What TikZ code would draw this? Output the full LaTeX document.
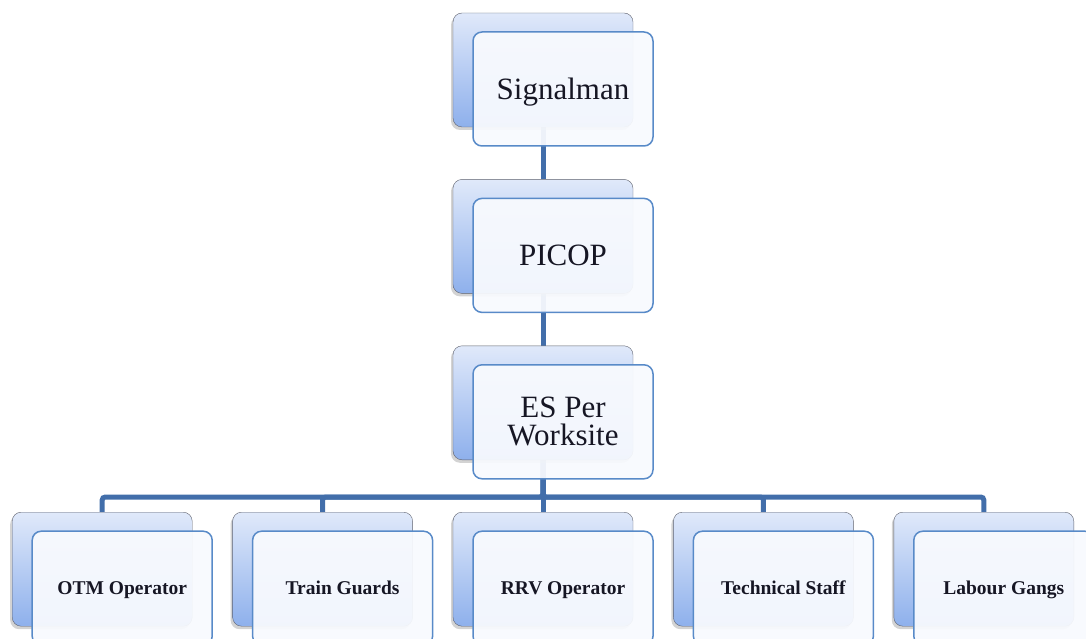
\documentclass[tikz,border=0pt]{standalone}
\usepackage{fontspec}
\setmainfont{Liberation Serif}
\usetikzlibrary{
  positioning,
  shadows,
  backgrounds,
}
\definecolor{linkblue}{RGB}{66,110,170}
\definecolor{backtop}{RGB}{224,233,250}
\definecolor{backbottom}{RGB}{142,176,236}
\definecolor{backedge}{RGB}{95,98,110}
\definecolor{frontfill}{RGB}{248,250,254}
\definecolor{frontedge}{RGB}{88,138,200}
\definecolor{inktext}{RGB}{22,22,36}
\tikzset{
  node distance= 52pt and 40pt,
  backbox/.style={
    rectangle,
    rounded corners=9pt,
    minimum width=180pt,
    minimum height=114pt,
    inner sep=0pt,
    draw=backedge,
    thin,
    top color=backtop,
    bottom color=backbottom,
    drop shadow={shadow xshift=-2pt, shadow yshift=-3pt, opacity=0.35},
  },
  frontbox/.style={
    rectangle,
    rounded corners=9pt,
    minimum width=180pt,
    minimum height=114pt,
    inner sep=0pt,
    draw=frontedge,
    line width=1.5pt,
    fill=frontfill,
    fill opacity=0.94,
    text opacity=1,
    text=inktext,
    align=center,
  },
  oneline/.style={
    text height=#1,
    text depth=0pt,
  },
  bigtext/.style={
    font=\fontsize{31}{28}\selectfont,
  },
  smalltext/.style={
    oneline=12.9pt,
    font=\fontsize{19.5}{22}\selectfont\bfseries,
  },
  link/.style={
    line width=5pt,
    draw=linkblue,
    rounded corners=3pt,
  },
}
\begin{document}
\begin{tikzpicture}[x=1pt,y=1pt]
  \path[use as bounding box,clip] (0,0) rectangle (1086,-639);

  % back boxes
  \node[backbox] (sigb) at (543,-70) {};
  \node[backbox, below=of sigb] (picb) {};
  \node[backbox, below=of picb] (esb) {};
  \node[backbox, below=of esb] (rrvb) {};
  \node[backbox, left=of rrvb] (trnb) {};
  \node[backbox, left=of trnb] (otmb) {};
  \node[backbox, right=of rrvb] (tecb) {};
  \node[backbox, right=of tecb] (labb) {};

  % front boxes
  \node[frontbox, bigtext, oneline=20.5pt] (sig) at ([shift={(20,-19)}]sigb) {Signalman};
  \node[frontbox, bigtext, oneline=20.5pt] (pic) at ([shift={(20,-19)}]picb) {PICOP};
  \node[frontbox, bigtext] (es) at ([shift={(20,-19)}]esb) {ES Per\\Worksite};
  \node[frontbox, smalltext] (otm) at ([shift={(20,-19)}]otmb) {OTM Operator};
  \node[frontbox, smalltext] (trn) at ([shift={(20,-19)}]trnb) {Train Guards};
  \node[frontbox, smalltext] (rrv) at ([shift={(20,-19)}]rrvb) {RRV Operator};
  \node[frontbox, smalltext] (tec) at ([shift={(20,-19)}]tecb) {Technical Staff};
  \node[frontbox, smalltext] (lab) at ([shift={(20,-19)}]labb) {Labour Gangs};

  \begin{pgfonlayer}{background}
    \draw[link] (sigb) -- (picb) -- (esb);
    \coordinate (bus) at ([yshift=15pt]rrvb.north);
    \foreach \child in {otmb,trnb,rrvb,tecb,labb}
      \draw[link] (esb) -- (bus) -| (\child);
  \end{pgfonlayer}
\end{tikzpicture}
\end{document}
